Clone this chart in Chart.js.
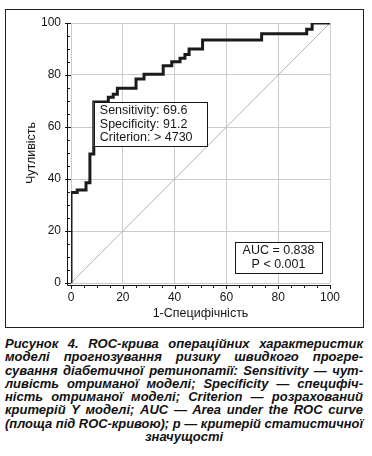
<!DOCTYPE html>
<html>
<head>
<meta charset="utf-8">
<script src="https://cdn.jsdelivr.net/npm/chart.js@4/dist/chart.umd.min.js"></script>
<style>
  body { margin: 0; background: #fff; width: 372px; height: 456px; overflow: hidden; position: relative; }
  #frame { position: absolute; left: 5px; top: 9px; width: 357px; height: 317px; border: 1px solid #222; }
  #wrap { position: absolute; left: 0; top: 0; width: 372px; height: 330px; }
  #caption { position: absolute; left: 5px; top: 337px; width: 358px; color: #111;
    font: italic bold 13px/13.3px "Liberation Sans", Arial, sans-serif; }
  .ln { white-space: nowrap; text-align: justify; text-align-last: justify; transform-origin: left center; }
  .last { text-align: center; text-align-last: center; }
</style>
</head>
<body>
<div id="frame"></div>
<div id="wrap"><canvas id="roc" width="372" height="330"></canvas></div>
<div id="caption">
  <div class="ln">Рисунок 4. ROC-крива операційних характеристик</div>
  <div class="ln">моделі прогнозування ризику швидкого прогре-</div>
  <div class="ln">сування діабетичної ретинопатії: Sensitivity — чут-</div>
  <div class="ln">ливість отриманої моделі; Specificity — специфіч-</div>
  <div class="ln">ність отриманої моделі; Criterion — розрахований</div>
  <div class="ln">критерій Y моделі; AUC — Area under the ROC curve</div>
  <div class="ln">(площа під ROC-кривою); p — критерій статистичної</div>
  <div class="ln last">значущості</div>
</div>
<script>
// ROC curve corners (1-specificity, sensitivity)
const fpr = [0, 2.4, 5.8, 7.3, 8.8, 14.4, 16.3, 17.9, 25.1, 28.2, 35.6, 38.9, 42.1, 44.0, 45.6, 50.8, 73.6, 91.0, 93.1, 100];
const tpr = [0, 34.8, 35.8, 38.6, 49.6, 69.6, 71.4, 72.6, 74.9, 78.5, 80.3, 83.6, 85.1, 86.4, 87.9, 90.0, 93.5, 95.9, 97.6, 100];
const diagX = [0, 100];
const diagY = [0, 100];

const tickValues = [0, 20, 40, 60, 80, 100];
const sensitivity = 69.6;
const specificity = 91.2;
const criterion = "> 4730";
const auc = 0.838;
const pValue = "< 0.001";

const FONT = '"Liberation Sans", Arial, sans-serif';
const INK = "#161616";

// axis lines sit a few px outside the plot, with minor ticks every 5
const axisLines = {
  id: "axisLines",
  beforeDatasetsDraw(chart) {
    const { ctx, chartArea, scales } = chart;
    const ax = chartArea.left - 4;
    const ay = chartArea.bottom + 2;
    ctx.save();
    ctx.strokeStyle = INK;
    ctx.lineWidth = 1;
    ctx.beginPath();
    ctx.moveTo(ax + 0.5, scales.y.getPixelForValue(100));
    ctx.lineTo(ax + 0.5, ay + 0.5);
    ctx.lineTo(scales.x.getPixelForValue(100), ay + 0.5);
    for (let v = 0; v <= 100; v += 5) {
      const major = v % 20 === 0;
      const py = Math.round(scales.y.getPixelForValue(v)) + 0.5;
      ctx.moveTo(major ? ax - 2 : ax, py);
      ctx.lineTo(major ? chartArea.left : ax + 3, py);
      const px = Math.round(scales.x.getPixelForValue(v)) + 0.5;
      ctx.moveTo(px, ay);
      ctx.lineTo(px, ay + (major ? 4 : 3));
    }
    ctx.stroke();
    ctx.restore();
  },
};

function drawBox(ctx, x, y, w, h, lines, align) {
  ctx.fillStyle = "#fff";
  ctx.fillRect(x, y, w, h);
  ctx.strokeStyle = INK;
  ctx.lineWidth = 1;
  ctx.strokeRect(Math.round(x) + 0.5, Math.round(y) + 0.5, w, h);
  ctx.fillStyle = INK;
  ctx.font = "12.5px " + FONT;
  ctx.textBaseline = "middle";
  ctx.textAlign = align;
  const lh = h / (lines.length + 0.35);
  lines.forEach((t, i) => {
    const tx = align === "center" ? x + w / 2 : x + 6;
    ctx.fillText(t, tx, y + lh * (i + 0.68));
  });
}

const boxes = {
  id: "boxes",
  afterDatasetsDraw(chart) {
    const { ctx, chartArea, scales } = chart;
    ctx.save();
    // criterion box anchored at the operating point
    const bx = scales.x.getPixelForValue(100 - specificity);
    const by = scales.y.getPixelForValue(sensitivity);
    drawBox(ctx, bx, by, 113, 44, [
      "Sensitivity: " + sensitivity,
      "Specificity: " + specificity,
      "Criterion: " + criterion,
    ], "left");
    drawBox(ctx, chartArea.right - 95, chartArea.bottom - 41, 87, 31, [
      "AUC = " + auc.toFixed(3),
      "P " + pValue,
    ], "center");
    ctx.restore();
  },
};

new Chart(document.getElementById("roc"), {
  type: "line",
  data: {
    datasets: [
      {
        data: fpr.map((x, i) => ({ x, y: tpr[i] })),
        borderColor: "#1b1b1b",
        borderWidth: 3,
        stepped: "after",
        pointRadius: 0,
        fill: false,
      },
      {
        data: diagX.map((x, i) => ({ x, y: diagY[i] })),
        borderColor: "#b4b4b4",
        borderWidth: 1,
        pointRadius: 0,
        fill: false,
      },
    ],
  },
  options: {
    responsive: false,
    animation: false,
    events: [],
    layout: { padding: { left: 0, right: 42, top: 23, bottom: 0 } },
    plugins: { legend: { display: false }, tooltip: { enabled: false } },
    scales: {
      x: {
        type: "linear",
        min: 0,
        max: 100,
        afterFit(scale) { scale.height = 47; },
        afterBuildTicks(scale) { scale.ticks = tickValues.map((v) => ({ value: v })); },
        grid: { color: "#cbcbcb", lineWidth: 1, drawTicks: false },
        border: { display: false },
        ticks: { color: INK, font: { family: FONT, size: 12 }, padding: 7, maxRotation: 0 },
        title: { display: true, text: "1-Специфічність", color: INK,
          font: { family: FONT, size: 12.5 }, padding: { top: 0, bottom: 9 } },
      },
      y: {
        type: "linear",
        min: 0,
        max: 100,
        afterFit(scale) { scale.width = 71; },
        afterBuildTicks(scale) { scale.ticks = tickValues.map((v) => ({ value: v })); },
        grid: { color: "#cbcbcb", lineWidth: 1, drawTicks: false },
        border: { display: false },
        ticks: { color: INK, font: { family: FONT, size: 12 }, padding: 10 },
        title: { display: true, text: "Чутливість", color: INK,
          font: { family: FONT, size: 12.5 }, padding: { top: 24, bottom: 0 } },
      },
    },
  },
  plugins: [axisLines, boxes],
});

// squeeze caption lines that are wider than the column
document.querySelectorAll("#caption .ln").forEach((el) => {
  const w = el.scrollWidth;
  const box = el.clientWidth;
  if (w > box) {
    el.style.width = w + "px";
    el.style.transform = "scaleX(" + (box / w) + ")";
  }
});
</script>
</body>
</html>
